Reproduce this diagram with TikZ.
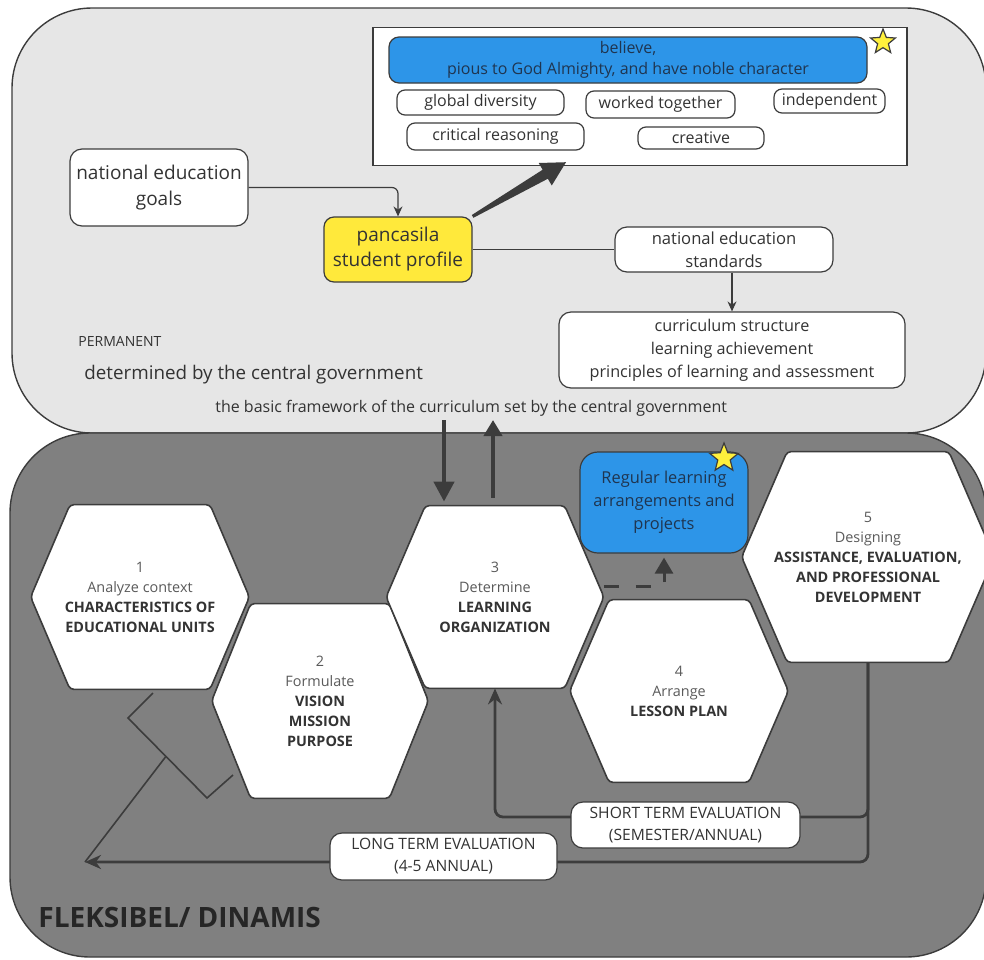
\documentclass[tikz,border=0pt]{standalone}
\usepackage{fontspec}
\setmainfont{Open Sans}
\usetikzlibrary{arrows.meta,shapes.geometric,calc}

\definecolor{panellight}{HTML}{E6E6E6}
\definecolor{paneldark}{HTML}{808080}
\definecolor{edgegrey}{HTML}{3C3C3C}
\definecolor{textgrey}{HTML}{333333}
\definecolor{hexgrey}{HTML}{5A5A5A}
\definecolor{profblue}{HTML}{2D95E8}
\definecolor{profyellow}{HTML}{FFE93B}
\definecolor{staryellow}{HTML}{FFF03C}
\definecolor{navytext}{HTML}{1F3550}

\newcommand{\hexbold}[1]{\textbf{\textcolor{textgrey}{#1}}}

\pgfdeclarelayer{panels}
\pgfdeclarelayer{hexes}
\pgfsetlayers{panels,hexes,main}

\begin{document}
\begin{tikzpicture}[x=0.5pt,y=-0.5pt,
  panel/.style={draw=edgegrey,line width=0.7pt,rounded corners=40pt},
  wbox/.style={draw=edgegrey,fill=white,line width=0.6pt,rounded corners=6pt,
    inner sep=0pt,align=center,text=textgrey},
  trait/.style={wbox,rounded corners=4pt,font=\fontsize{8}{10}\selectfont},
  label/.style={anchor=west,inner sep=0pt,text=textgrey},
  hexa/.style 2 args={minimum width=#1,minimum height=#2,inner sep=0pt,
    align=center,text=hexgrey,font=\fontsize{7.2}{10}\selectfont},
  hexline/.style={draw=edgegrey,fill=white,line width=0.8pt,rounded corners=2pt},
  staricon/.style={star,star points=5,star point ratio=2.3,draw=edgegrey,
    fill=staryellow,line width=0.6pt,inner sep=0pt},
  thinarrow/.style={draw=edgegrey,line width=0.6pt,-{Stealth[length=5pt,width=4.5pt]}},
  bigarrow/.style={draw=edgegrey,line width=2.2pt,-{Triangle[length=10pt,width=10pt]}},
  dasharrow/.style={draw=edgegrey,line width=1.5pt,dash pattern=on 7.5pt off 8.5pt,
    -{Triangle[length=8pt,width=9pt]}},
  evalarrow/.style={draw=edgegrey,line width=1.4pt,rounded corners=4pt,
    -{Stealth[length=8pt,width=7pt]}},
  bracket/.style={draw=edgegrey,line width=0.8pt}]

\useasboundingbox (0,0) rectangle (984,959);

% panels
\begin{pgfonlayer}{panels}
  \draw[panel,fill=panellight] (12,8) rectangle (986,433);
  \draw[panel,fill=paneldark] (10,433) rectangle (986,957);
\end{pgfonlayer}

% permanent part
\node[draw=edgegrey,fill=white,line width=0.7pt,minimum width=267pt,minimum height=69pt]
  (profbox) at (640,96.5) {};
\node[wbox,fill=profblue,rounded corners=5pt,text=navytext,minimum width=239pt,
  minimum height=23pt,font=\fontsize{8}{10.5}\selectfont]
  (believe) at (628,60) {believe,\\pious to God Almighty, and have noble character};
\node[staricon,minimum size=13pt] (starone) at (883,42) {};
\node[trait,minimum width=83.5pt,minimum height=12.5pt] (globdiv) at (480.5,102.5) {global diversity};
\node[trait,minimum width=74.5pt,minimum height=13.5pt] (worked) at (660.5,104.5) {worked together};
\node[trait,minimum width=55.5pt,minimum height=12pt] (indep) at (829.5,101) {independent};
\node[trait,minimum width=88.5pt,minimum height=13.5pt] (critical) at (495.5,136.5) {critical reasoning};
\node[trait,minimum width=63pt,minimum height=11pt] (creative) at (701,138) {creative};

\node[wbox,minimum width=89pt,minimum height=38.5pt,font=\fontsize{9.5}{13}\selectfont]
  (natgoals) at (159,187.5) {national education\\goals};
\node[wbox,fill=profyellow,rounded corners=5pt,minimum width=74pt,minimum height=32.5pt,
  font=\fontsize{9.5}{12.5}\selectfont] (pancasila) at (398,249.5) {pancasila\\student profile};
\node[wbox,minimum width=109pt,minimum height=22.5pt,font=\fontsize{8.3}{11.5}\selectfont]
  (natstand) at (724,249.5) {national education\\standards};
\node[wbox,minimum width=173pt,minimum height=38pt,font=\fontsize{8.1}{11.5}\selectfont]
  (currstruct) at (732,350)
  {curriculum structure\\learning achievement\\principles of learning and assessment};

\node[label,font=\fontsize{7}{8}\selectfont] (permanent) at (78,341) {PERMANENT};
\node[label,font=\fontsize{9.4}{11}\selectfont] (central) at (84,375)
  {determined by the central government};
\node[label,font=\fontsize{8}{10}\selectfont] (framework) at (215,408)
  {the basic framework of the curriculum set by the central government};

\draw[thinarrow,rounded corners=3pt] (natgoals.east) -| (pancasila.north);
% tapered arrow to the profile box
\coordinate (wedgefrom) at (pancasila.north east);
\coordinate (wedgeto) at ([xshift=-37pt,yshift=2pt]profbox.south);
\coordinate (wedgehead) at ($(wedgeto)!12pt!(wedgefrom)$);
\fill[edgegrey] ($(wedgefrom)!0.8pt!90:(wedgeto)$) -- ($(wedgehead)!2.6pt!90:(wedgeto)$)
  -- ($(wedgehead)!6.5pt!90:(wedgeto)$) -- (wedgeto)
  -- ($(wedgehead)!6.5pt!-90:(wedgeto)$) -- ($(wedgehead)!2.6pt!-90:(wedgeto)$)
  -- ($(wedgefrom)!0.8pt!-90:(wedgeto)$) -- cycle;
\draw[draw=edgegrey,line width=0.6pt] (pancasila.east) -- (natstand.west);
\draw[thinarrow] (currstruct.north |- natstand.south) -- (currstruct.north);

% flexible part
\node[hexa={109pt}{92pt}] (hone) at (140,597)
  {1\\Analyze context\\\hexbold{CHARACTERISTICS OF}\\\hexbold{EDUCATIONAL UNITS}};
\node[hexa={108pt}{97pt}] (htwo) at (320,701)
  {2\\Formulate\\\hexbold{VISION}\\\hexbold{MISSION}\\\hexbold{PURPOSE}};
\node[hexa={108.5pt}{91pt}] (hthree) at (495,597)
  {3\\Determine\\\hexbold{LEARNING}\\\hexbold{ORGANIZATION}};
\node[hexa={109pt}{91pt}] (hfour) at (679,691)
  {4\\Arrange\\\hexbold{LESSON PLAN}};
\node[hexa={126pt}{105pt}] (hfive) at (868,557)
  {5\\Designing\\\hexbold{ASSISTANCE, EVALUATION,}\\\hexbold{AND PROFESSIONAL}\\\hexbold{DEVELOPMENT}};

\begin{pgfonlayer}{hexes}
  \foreach \h in {hone,htwo,hthree,hfour,hfive}
    \draw[hexline] (\h.west)
      -- ($(\h.north west)!0.18!(\h.north east)$)
      -- ($(\h.north west)!0.82!(\h.north east)$)
      -- (\h.east)
      -- ($(\h.south west)!0.82!(\h.south east)$)
      -- ($(\h.south west)!0.18!(\h.south east)$)
      -- cycle;
\end{pgfonlayer}

\node[wbox,fill=profblue,rounded corners=9pt,text=navytext,minimum width=84pt,
  minimum height=50.5pt,font=\fontsize{8.2}{11.5}\selectfont]
  (regular) at (664,502.5) {Regular learning\\arrangements and\\projects};
\node[staricon,minimum size=15pt] (startwo) at (724,458) {};

\coordinate (fwdown) at (444,420);
\coordinate (fwup) at (493,420);
\draw[bigarrow,shorten >=2pt] (fwdown) -- (fwdown |- hthree.north);
\draw[bigarrow,shorten <=4pt,-{Triangle[length=8pt,width=9pt]}] (fwup |- hthree.north) -- (fwup);
\draw[dasharrow,shorten >=2pt] ([yshift=5.5pt]hthree.east) -| (regular.south);

% evaluation loops
\coordinate (stlevel) at (680,817);
\coordinate (lttip) at (85,862);
\draw[evalarrow] (hfive.south) |- (stlevel) -| (hthree.south);
\draw[evalarrow] (hfive.south) |- (lttip);

\coordinate (bra) at (153,693);
\coordinate (brb) at (128,718);
\coordinate (brc) at (207,798);
\coordinate (brd) at (233,775);
\draw[bracket] (bra) -- (brb) -- (brc) -- (brd);
\draw[bracket] (lttip) -- ($(brb)!0.48!(brc)$);

\node[wbox,minimum width=114.5pt,minimum height=23pt,font=\fontsize{7.8}{11}\selectfont]
  (sterm) at (685.5,825) {SHORT TERM EVALUATION\\(SEMESTER/ANNUAL)};
\node[wbox,minimum width=113.5pt,minimum height=23.5pt,font=\fontsize{7.8}{11}\selectfont]
  (lterm) at (443.5,856.5) {LONG TERM EVALUATION\\(4-5 ANNUAL)};

\node[label,text=black!85,font=\fontsize{14}{16}\bfseries] (flexible) at (38,917)
  {FLEKSIBEL/ DINAMIS};
\end{tikzpicture}
\end{document}
